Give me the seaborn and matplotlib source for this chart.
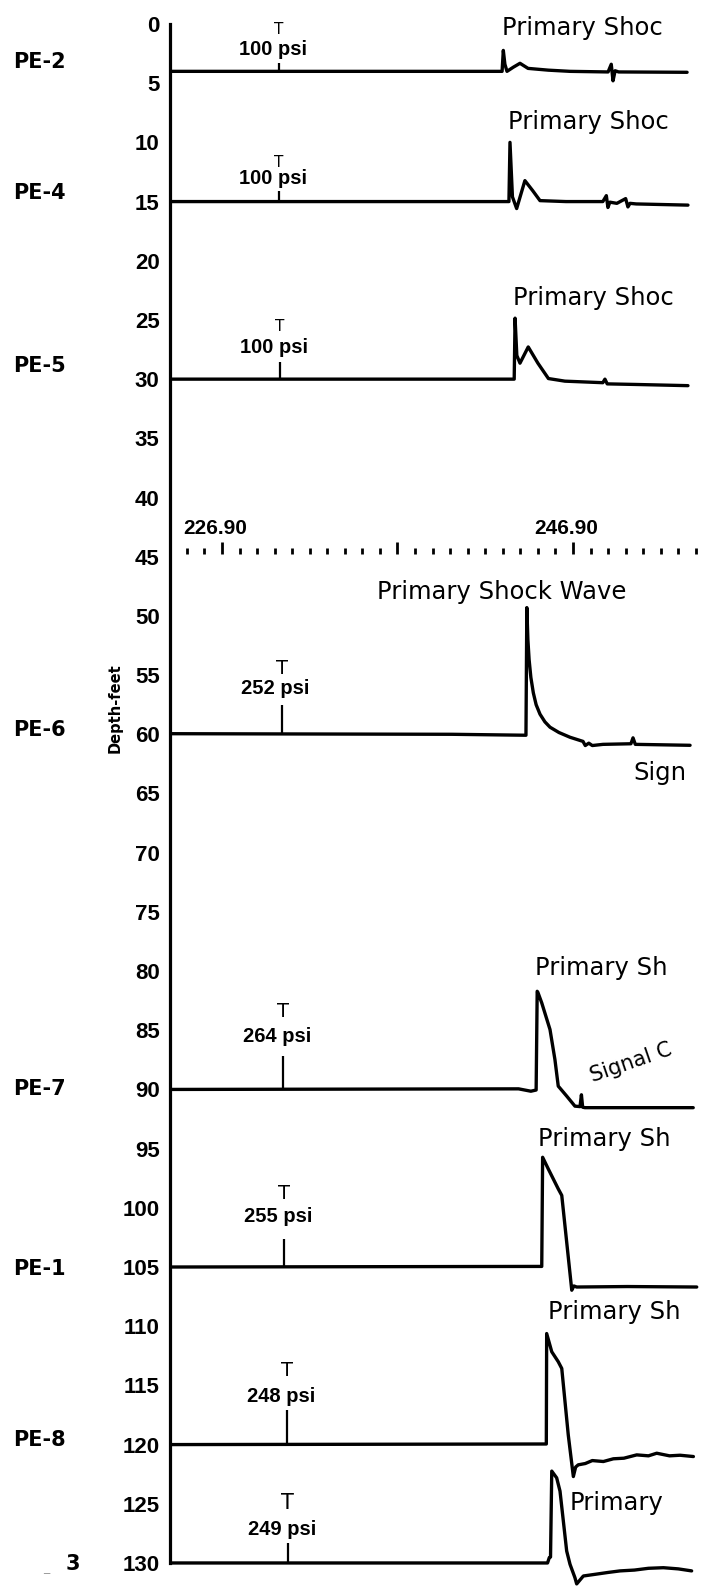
import numpy as np
import pandas as pd
import matplotlib
matplotlib.use("Agg")
import matplotlib.pyplot as plt
import matplotlib.transforms as mtransforms
from matplotlib.ticker import FixedLocator, FixedFormatter
import seaborn as sns

# ---- gauge records -------------------------------------------------------
gauges = ["PE-2", "PE-4", "PE-5", "PE-6", "PE-7", "PE-1", "PE-8", "3"]
gauge_depth = [4, 15, 30, 60, 90, 105, 120, 130]          # feet
label_depth = [3.2, 14.3, 28.9, 59.6, 90.0, 105.2, 119.6, 130.1]
cal_psi = [100, 100, 100, 252, 264, 255, 248, 249]
cal_time = [230.13, 230.13, 230.19, 230.30, 230.36, 230.42, 230.59, 230.65]

# pressure-time traces: time (ms) and deflection above the gauge baseline
pe2_t = [223.94, 242.86, 242.93, 243.02, 243.14, 243.5, 243.88, 244.34, 245.5,
         246.73, 248.9, 249.08, 249.18, 249.3, 249.5, 253.4]
pe2_d = [0, 0, 1.77, 0.6, 0.0, 0.35, 0.68, 0.25, 0.1,
         0.0, -0.05, 0.6, -0.8, 0.05, -0.05, -0.08]

pe4_t = [223.94, 243.25, 243.31, 243.45, 243.69, 244.16, 244.6, 245.02, 246.5,
         248.6, 248.8, 248.89, 249.0, 249.4, 249.9, 250.03, 250.15, 250.5, 253.45]
pe4_d = [0, 0, 5.0, 0.4, -0.59, 1.77, 0.93, 0.08, 0.0,
         0.0, 0.5, -0.5, -0.05, -0.15, 0.25, -0.45, -0.15, -0.2, -0.3]

pe5_t = [223.94, 243.55, 243.6, 243.7, 243.88, 244.35, 244.9, 245.5, 246.44,
         248.6, 248.72, 248.85, 250.5, 253.45]
pe5_d = [0, 0, 5.15, 2.0, 1.35, 2.72, 1.35, 0.05, -0.17,
         -0.3, 0.0, -0.4, -0.45, -0.55]

pe6_t = [223.94, 240.0, 244.22, 244.27, 244.33, 244.4, 244.5, 244.64, 244.8,
         245.02, 245.3, 245.59, 246.1, 246.73, 247.47, 247.6, 247.8, 248.0,
         248.61, 250.2, 250.32, 250.45, 253.57]
pe6_d = [0.05, 0.0, -0.08, 10.7, 8.0, 6.3, 4.8, 3.5, 2.5,
         1.7, 1.05, 0.6, 0.15, -0.25, -0.6, -0.95, -0.75, -0.95,
         -0.85, -0.8, -0.3, -0.85, -0.93]

pe7_t = [223.94, 243.8, 244.5, 244.8, 244.86, 244.9, 245.12, 245.59, 245.87,
         246.06, 246.54, 247.01, 247.3, 247.38, 247.45, 247.58, 253.75]
pe7_d = [0, 0.05, -0.15, -0.05, 8.29, 8.2, 7.31, 5.06, 2.53,
         0.28, -0.56, -1.41, -1.45, -0.45, -1.5, -1.54, -1.54]

pe1_t = [223.94, 245.12, 245.17, 245.49, 246.06, 246.26, 246.83, 246.95, 247.11,
         250.0, 253.95]
pe1_d = [0, 0.05, 9.27, 8.29, 6.6, 6.05, -1.96, -1.6, -1.69,
         -1.65, -1.69]

pe8_t = [223.94, 245.38, 245.40, 245.69, 246.06, 246.26, 246.63, 246.92, 247.05,
         247.2, 247.6, 248.0, 248.63, 249.2, 249.8, 250.53, 251.2, 251.67, 252.4,
         253.0, 253.76]
pe8_d = [0, 0.05, 9.38, 7.84, 7.0, 6.43, 0.82, -2.70, -1.9,
         -1.71, -1.6, -1.35, -1.43, -1.2, -1.15, -0.87, -0.95, -0.73, -0.95,
         -0.9, -1.01]

pe3_t = [223.94, 245.45, 245.55, 245.62, 245.69, 245.97, 246.16, 246.54, 246.73,
         247.01, 247.11, 247.49, 248.2, 248.9, 249.58, 250.4, 251.2, 252.05,
         252.9, 253.66]
pe3_d = [0, 0, 0.45, 0.5, 7.76, 7.19, 6.07, 1.01, -0.11,
         -1.24, -1.77, -1.10, -0.95, -0.8, -0.67, -0.6, -0.45, -0.40,
         -0.5, -0.67]

trace_t = [pe2_t, pe4_t, pe5_t, pe6_t, pe7_t, pe1_t, pe8_t, pe3_t]
trace_d = [pe2_d, pe4_d, pe5_d, pe6_d, pe7_d, pe1_d, pe8_d, pe3_d]

# shock-wave annotations (text, time, depth) as they appear on the sheet
shock_text = ["Primary Shoc", "Primary Shoc", "Primary Shoc",
              "Primary Shock Wave", "Primary Sh", "Primary Sh",
              "Primary Sh", "Primary"]
shock_time = [242.85, 243.2, 243.48, 235.73, 244.73, 244.91, 245.48, 246.73]
shock_depth = [0.34, 8.28, 23.15, 47.98, 79.74, 94.2, 108.8, 124.93]

# time scale drawn across the depth axis
time_axis_depth = 44.8
time_major = [226.90, 236.90, 246.90]
time_major_labels = ["226.90", "", "246.90"]
time_minor = [224.90 + i for i in range(30)]

depth_ticks = list(range(0, 131, 5))

# ---- figure --------------------------------------------------------------
sns.set_style("white")
plt.rcParams["font.family"] = ["DejaVu Sans"]

W, H = 702, 1587
fig = plt.figure(figsize=(W / 100, H / 100), dpi=100)
fig.patch.set_facecolor("white")
ax = fig.add_axes([170 / W, 0, 1 - 170 / W, 1])
ax.set_facecolor("white")
ax.set_xlim(223.94, 254.25)
ax.set_ylim(132.03, -2.027)
px_per_ft = H / (132.03 + 2.027)

num_family = ["Liberation Sans", "DejaVu Sans"]

for t, d, base in zip(trace_t, trace_d, gauge_depth):
    df = pd.DataFrame({"time": t, "depth": base - np.asarray(d)})
    sns.lineplot(data=df, x="time", y="depth", ax=ax, color="black",
                 linewidth=2.4, sort=False, estimator=None, legend=False)

# depth axis
for side in ["right", "bottom"]:
    ax.spines[side].set_visible(False)
ax.spines["left"].set_linewidth(2.3)
ax.spines["left"].set_color("black")
ax.spines["left"].set_bounds(0, 130)
ax.yaxis.set_major_locator(FixedLocator(depth_ticks))
ax.yaxis.set_major_formatter(FixedFormatter([str(v) for v in depth_ticks]))
ax.tick_params(axis="y", direction="inout", length=11, width=2.0,
               color="black", labelcolor="black", pad=2, labelsize=16)
for lab in ax.get_yticklabels():
    lab.set_fontfamily(num_family)
    lab.set_fontweight("bold")
ax.set_ylabel("")

# time scale on a spine moved into the plot
ax.spines["top"].set_position(("data", time_axis_depth))
ax.spines["top"].set_visible(False)
ax.xaxis.set_ticks_position("top")
ax.xaxis.set_major_locator(FixedLocator(time_major))
ax.xaxis.set_major_formatter(FixedFormatter(time_major_labels))
ax.xaxis.set_minor_locator(FixedLocator(time_minor))
ax.tick_params(axis="x", which="major", direction="out", length=9, width=2.0,
               color="black", labelcolor="black", pad=3, labelsize=15,
               top=True, labeltop=True, bottom=False, labelbottom=False)
ax.tick_params(axis="x", which="minor", direction="out", length=4, width=2.0,
               color="black", top=True, bottom=False)
shift = mtransforms.ScaledTranslation(-7 / 100, 0, fig.dpi_scale_trans)
for lab in ax.get_xticklabels():
    lab.set_fontfamily(num_family)
    lab.set_fontweight("bold")
    lab.set_transform(lab.get_transform() + shift)
ax.set_xlabel("")

# gauge names at the left margin
blend = mtransforms.blended_transform_factory(fig.transFigure, ax.transData)
for name, dep in zip(gauges, label_depth):
    x0 = 66 / W if name == "3" else 13 / W
    ax.text(x0, dep, name, transform=blend, ha="left", va="center",
            fontsize=15, fontweight="bold", color="black", clip_on=False)
ax.text(43 / W, 130.4, "_", transform=blend, ha="left", va="center",
        fontsize=9, color="#9a9a9a", clip_on=False)

fig.text(115 / W, 1 - 708 / H, "Depth-feet", rotation=90, ha="center",
         va="center", fontsize=10.5, fontweight="bold", color="black")

# calibration marks
stub_px = [8, 11, 17, 29, 33, 28, 35, 20]
value_px = [22, 23, 32, 46, 53, 51, 48, 33]
cap_px = [42, 39, 53, 66, 78, 74, 74, 60]
cap_size = [11, 11, 11, 14, 14, 14, 14, 15]
for i, base in enumerate(gauge_depth):
    tc = cal_time[i]
    ax.plot([tc, tc], [base, base - stub_px[i] / px_per_ft], color="black",
            linewidth=1.6, solid_capstyle="butt")
    ax.annotate(f"{cal_psi[i]} psi", xy=(tc, base), xytext=(-6, value_px[i]),
                textcoords="offset pixels", ha="center", va="center",
                fontsize=14.5, fontfamily=num_family,
                fontweight="bold", color="black")
    ax.annotate("T", xy=(tc, base), xytext=(0, cap_px[i]),
                textcoords="offset pixels", ha="center", va="center",
                fontsize=cap_size[i], color="black")

# shock-wave labels
for txt, tt, dd in zip(shock_text, shock_time, shock_depth):
    ax.text(tt, dd, txt, ha="left", va="center", fontsize=17.5,
            color="black", clip_on=False)

ax.text(250.32, 63.27, "Sign", ha="left", va="center",
        fontsize=17.5, color="black", clip_on=False)
ax.text(248.0, 89.35, "Signal C", ha="left", va="baseline",
        rotation=19, rotation_mode="anchor", fontsize=15, color="black",
        clip_on=False)

fig.savefig("out.png", dpi=100, facecolor="white")
